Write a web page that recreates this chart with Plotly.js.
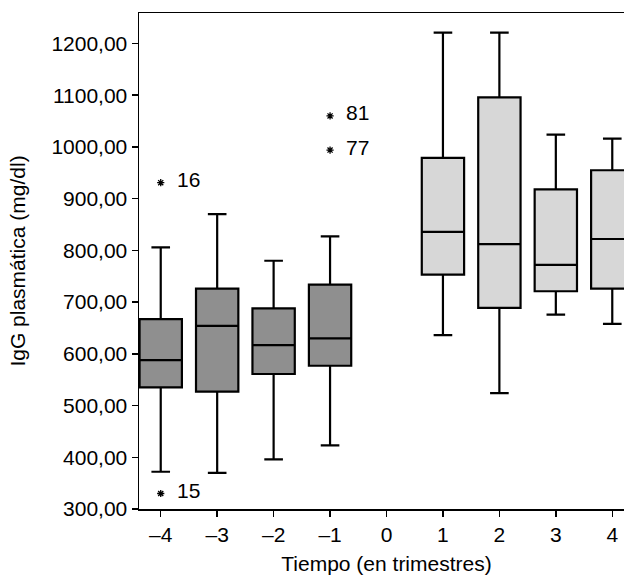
<!DOCTYPE html>
<html>
<head>
<meta charset="utf-8">
<script src="https://cdn.plot.ly/plotly-3.0.1.min.js"></script>
<style>
html, body { margin: 0; padding: 0; overflow: hidden; background: #fff; }
#chart { width: 660px; height: 575px; }
</style>
</head>
<body>
<div id="chart"></div>
<script>
// Data
const timesBefore = [-4, -3, -2, -1];
const lowerBefore = [372, 370, 396, 423];
const q1Before = [535, 527, 561, 577];
const medianBefore = [588, 654, 617, 630];
const q3Before = [667, 726, 688, 734];
const upperBefore = [806, 870, 780, 827];

const timesAfter = [1, 2, 3, 4];
const lowerAfter = [636, 524, 676, 658];
const q1After = [753, 689, 721, 726];
const medianAfter = [836, 812, 772, 822];
const q3After = [979, 1096, 918, 955];
const upperAfter = [1221, 1221, 1024, 1016];

const outlierX = [-4, -4, -1, -1];
const outlierY = [931, 330, 1060, 994];
const outlierLabels = ['16', '15', '81', '77'];

const yTickVals = [300, 400, 500, 600, 700, 800, 900, 1000, 1100, 1200];
const yTickText = ['300,00', '400,00', '500,00', '600,00', '700,00', '800,00', '900,00', '1000,00', '1100,00', '1200,00'];
const xTickVals = [-4, -3, -2, -1, 0, 1, 2, 3, 4];
const xTickText = ['–4', '–3', '–2', '–1', '0', '1', '2', '3', '4'];

const font = 'Arial, "Liberation Sans", Helvetica, sans-serif';

function boxTrace(x, lo, q1, med, q3, hi, fill) {
  return {
    type: 'box',
    x: x, lowerfence: lo, q1: q1, median: med, q3: q3, upperfence: hi,
    width: 0.75,
    whiskerwidth: 0.44,
    fillcolor: fill,
    line: { color: '#000', width: 2.2 },
    boxpoints: false,
    hoverinfo: 'skip',
    showlegend: false
  };
}

const traces = [
  boxTrace(timesBefore, lowerBefore, q1Before, medianBefore, q3Before, upperBefore, '#8f8f8f'),
  boxTrace(timesAfter, lowerAfter, q1After, medianAfter, q3After, upperAfter, '#d7d7d7'),
  {
    type: 'scatter', mode: 'markers',
    x: outlierX, y: outlierY,
    marker: { symbol: 'asterisk-open', size: 6, color: '#000', line: { color: '#000', width: 1.3 } },
    hoverinfo: 'skip', showlegend: false
  }
];

const annotations = outlierLabels.map((t, i) => ({
  x: outlierX[i], y: outlierY[i], xref: 'x', yref: 'y',
  text: t, showarrow: false, xanchor: 'left', yanchor: 'middle',
  xshift: 14, yshift: 3,
  font: { family: font, size: 21, color: '#000' }
}));

const layout = {
  width: 660, height: 575,
  margin: { l: 139, r: 26, t: 13, b: 66 },
  paper_bgcolor: '#fff', plot_bgcolor: '#fff',
  boxmode: 'overlay',
  font: { family: font, size: 21, color: '#000' },
  xaxis: {
    range: [-4.385, 4.385],
    tickvals: xTickVals, ticktext: xTickText,
    ticks: 'outside', ticklen: 6, tickwidth: 1.5, tickcolor: '#000',
    showline: true, linecolor: '#000', linewidth: 1.5, mirror: true,
    showgrid: false, zeroline: false,
    tickfont: { family: font, size: 21 },
    title: { text: 'Tiempo (en trimestres)', font: { family: font, size: 21 }, standoff: 14 }
  },
  yaxis: {
    range: [300, 1259],
    tickvals: yTickVals, ticktext: yTickText,
    ticks: 'outside', ticklen: 6, tickwidth: 1.5, tickcolor: '#000',
    showline: true, linecolor: '#000', linewidth: 1.5, mirror: true,
    showgrid: false, zeroline: false,
    tickfont: { family: font, size: 21 },
    title: { text: 'IgG plasmática (mg/dl)', font: { family: font, size: 21 }, standoff: 20 }
  },
  annotations: annotations
};

Plotly.newPlot('chart', traces, layout, { staticPlot: true, displayModeBar: false });
</script>
</body>
</html>
